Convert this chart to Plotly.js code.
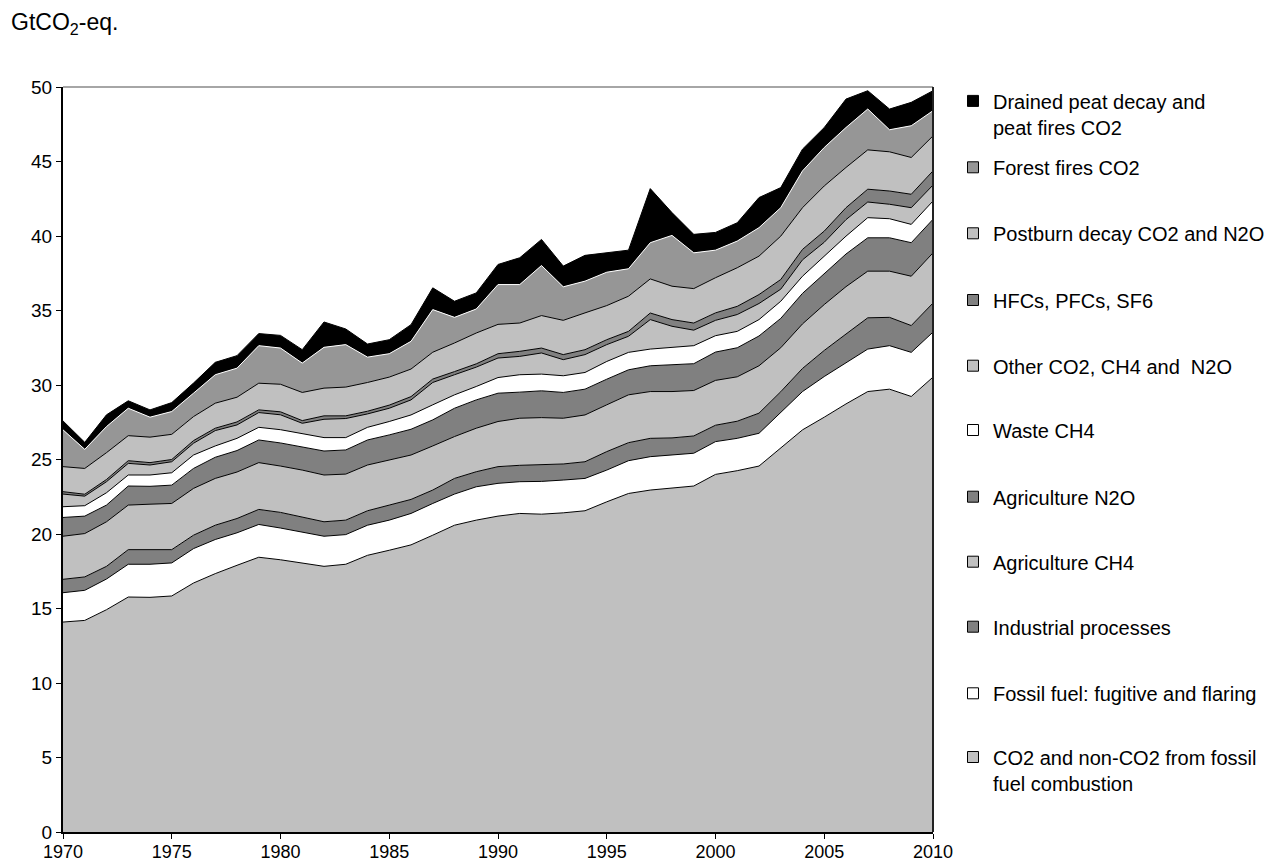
<!DOCTYPE html>
<html>
<head>
<meta charset="utf-8">
<script src="https://cdn.plot.ly/plotly-3.0.1.min.js"></script>
<style>html,body{margin:0;padding:0;background:#fff;}#chart{width:1266px;height:865px;}</style>
</head>
<body>
<div id="chart"></div>
<script>
const years = [1970,1971,1972,1973,1974,1975,1976,1977,1978,1979,1980,1981,1982,1983,1984,1985,1986,1987,1988,1989,1990,1991,1992,1993,1994,1995,1996,1997,1998,1999,2000,2001,2002,2003,2004,2005,2006,2007,2008,2009,2010];
const xTicks = [1970,1975,1980,1985,1990,1995,2000,2005,2010];
const yTicks = [0,5,10,15,20,25,30,35,40,45,50];

const fossilCombustion = [14.09,14.20,14.92,15.77,15.75,15.84,16.71,17.34,17.90,18.44, 18.27,18.06,17.83,17.97,18.57,18.91,19.27,19.92,20.59,20.93, 21.20,21.38,21.33,21.42,21.56,22.16,22.72,22.95,23.06,23.22, 24.00,24.25,24.56,25.75,26.99,27.84,28.73,29.56,29.72,29.23,30.53];
const fugitiveFlaring = [1.97,2.02,2.06,2.20,2.22,2.22,2.31,2.29,2.18,2.20, 2.13,2.08,2.02,1.99,2.02,2.02,2.11,2.13,2.09,2.24, 2.20,2.13,2.20,2.20,2.17,2.13,2.20,2.24,2.24,2.20, 2.20,2.17,2.20,2.40,2.57,2.73,2.74,2.85,2.92,2.96,3.02];
const industrial = [0.90,0.90,0.85,0.98,0.98,0.89,0.90,0.96,0.96,1.01, 1.05,1.01,0.97,0.97,0.97,1.01,0.94,0.90,1.05,1.01, 1.12,1.10,1.10,1.08,1.12,1.24,1.21,1.23,1.15,1.16, 1.10,1.15,1.35,1.40,1.55,1.75,1.95,2.10,1.90,1.80,1.95];
const agriCH4 = [2.89,2.91,2.99,2.99,3.05,3.10,3.14,3.14,3.12,3.14, 3.11,3.14,3.14,3.09,3.07,3.03,2.98,2.96,2.81,2.92, 3.03,3.16,3.18,3.07,3.14,3.14,3.21,3.14,3.11,3.05, 3.01,2.98,3.18,2.95,2.99,3.08,3.18,3.13,3.10,3.31,3.37];
const agriN2O = [1.26,1.17,1.12,1.28,1.20,1.23,1.34,1.42,1.44,1.52, 1.55,1.57,1.61,1.62,1.68,1.68,1.73,1.75,1.90,1.90, 1.90,1.75,1.80,1.73,1.73,1.72,1.68,1.73,1.80,1.80, 1.90,1.95,2.00,1.97,2.05,2.05,2.19,2.24,2.24,2.25,2.25];
const wasteCH4 = [0.72,0.70,0.83,0.74,0.76,0.83,0.90,0.76,0.82,0.85, 0.89,0.90,0.90,0.83,0.85,0.90,0.96,1.01,0.90,0.90, 1.05,1.17,1.12,1.12,1.12,1.19,1.17,1.12,1.14,1.21, 1.10,1.10,1.10,1.15,1.15,1.20,1.20,1.35,1.28,1.23,1.23];
const otherGases = [0.85,0.64,0.74,0.78,0.67,0.74,0.79,1.03,0.90,0.99, 1.00,0.67,1.23,1.28,0.90,0.89,1.01,1.50,1.35,1.30, 1.31,1.23,1.42,1.08,1.20,1.13,1.08,1.98,1.44,1.04, 1.03,1.13,1.08,0.81,1.10,0.93,1.11,1.05,0.97,1.12,1.07];
const fGases = [0.16,0.13,0.15,0.18,0.16,0.15,0.18,0.16,0.20,0.18, 0.20,0.18,0.23,0.18,0.18,0.21,0.22,0.23,0.21,0.22, 0.29,0.34,0.33,0.34,0.33,0.33,0.33,0.44,0.45,0.48, 0.50,0.55,0.60,0.65,0.70,0.75,0.80,0.86,0.89,0.90,0.95];
const postburn = [1.68,1.73,1.80,1.68,1.71,1.69,1.61,1.68,1.66,1.79, 1.85,1.89,1.86,1.93,1.93,1.88,1.85,1.80,1.92,2.07, 1.97,1.90,2.18,2.30,2.47,2.29,2.36,2.29,2.24,2.31, 2.36,2.59,2.58,2.91,2.80,3.03,2.70,2.64,2.63,2.47,2.35];
const forestFires = [2.47,1.28,1.75,1.84,1.34,1.53,1.57,1.91,1.95,2.52, 2.43,1.97,2.74,2.85,1.70,1.57,1.86,2.86,1.72,1.61, 2.67,2.58,3.36,2.25,2.13,2.24,1.84,2.43,3.41,2.40, 1.85,1.79,1.91,1.91,2.47,2.58,2.68,2.74,1.48,2.13,1.69];
const peat = [0.60,0.47,0.79,0.50,0.49,0.60,0.68,0.83,0.84,0.81, 0.85,0.90,1.70,1.05,0.88,0.94,1.12,1.46,1.08,1.08, 1.35,1.80,1.75,1.39,1.73,1.30,1.25,3.63,1.53,1.24, 1.19,1.23,2.02,1.35,1.46,1.34,1.91,1.23,1.39,1.57,1.34];

const seriesNames = [
  "CO2 and non-CO2 from fossil<br>fuel combustion",
  "Fossil fuel: fugitive and flaring",
  "Industrial processes",
  "Agriculture CH4",
  "Agriculture N2O",
  "Waste CH4",
  "Other CO2, CH4 and  N2O",
  "HFCs, PFCs, SF6",
  "Postburn decay CO2 and N2O",
  "Forest fires CO2",
  "Drained peat decay and<br>peat fires CO2"
];
const seriesValues = [fossilCombustion, fugitiveFlaring, industrial, agriCH4, agriN2O, wasteCH4, otherGases, fGases, postburn, forestFires, peat];
const fills = ['#C0C0C0','#FFFFFF','#808080','#C0C0C0','#808080','#FFFFFF','#C0C0C0','#808080','#C0C0C0','#969696','#000000'];
const topLine = ['#000','#000','#000','#000','#000','#000','#000','#000','#000','#FFFFFF','#000'];
// legend centre (px from top of page)
const legendYpx = [770, 693.3, 626.7, 561.7, 496.7, 430, 365.7, 300, 233.3, 167.3, 113.9];

const plotTop = 87, plotBottom = 832, plotLeft = 63, plotRight = 933;
const traces = [];
seriesValues.forEach((vals, i) => {
  traces.push({
    type: 'scatter', mode: 'lines', x: years, y: vals, stackgroup: 'all',
    line: {color: topLine[i], width: 1}, fillcolor: fills[i],
    showlegend: false, hoverinfo: 'skip', name: seriesNames[i]
  });
});
const layout = {
  width: 1266, height: 865,
  margin: {l: plotLeft, r: 1266 - plotRight, t: plotTop, b: 865 - plotBottom, autoexpand: false},
  paper_bgcolor: '#fff', plot_bgcolor: '#fff',
  font: {family: 'Liberation Sans, Arial, sans-serif', color: '#000', size: 19},
  xaxis: {range: [1970, 2010], tickvals: xTicks, ticks: 'outside', ticklen: 5, tickwidth: 1, tickcolor: '#000',
          showline: true, linecolor: '#000', linewidth: 2, showgrid: false, zeroline: false, fixedrange: true,
          tickfont: {size: 18}, ticklabelstandoff: -3},
  yaxis: {range: [0, 50], tickvals: yTicks, ticks: 'outside', ticklen: 5, tickwidth: 1, tickcolor: '#000',
          showline: true, linecolor: '#000', linewidth: 2, showgrid: false, zeroline: false, fixedrange: true,
          tickfont: {size: 19}},
  shapes: [
    {type: 'line', xref: 'paper', yref: 'paper', x0: 0, x1: 1, y0: 1, y1: 1, line: {color: '#888', width: 1.5}},
    {type: 'line', xref: 'paper', yref: 'paper', x0: 1, x1: 1, y0: 0, y1: 1, line: {color: '#222', width: 2}}
  ],
  annotations: [
    {xref: 'paper', yref: 'paper', x: (9 - plotLeft) / (plotRight - plotLeft), y: (plotBottom - 24) / (plotBottom - plotTop),
     xanchor: 'left', yanchor: 'middle', showarrow: false, text: 'GtCO<sub>2</sub>-eq.', font: {size: 23}}
  ],
  hovermode: false
};
seriesNames.forEach((nm, i) => {
  const key = i === 0 ? 'legend' : 'legend' + (i + 1);
  traces.push({
    type: 'scatter', mode: 'markers', x: [null], y: [null], name: nm,
    marker: {symbol: 'square', size: 11, color: fills[i], line: {color: '#000', width: 1}},
    legend: key, showlegend: true, hoverinfo: 'skip'
  });
  layout[key] = {
    x: (953 - plotLeft) / (plotRight - plotLeft), xanchor: 'left',
    y: (plotBottom - legendYpx[i]) / (plotBottom - plotTop), yanchor: 'middle',
    bgcolor: 'rgba(0,0,0,0)', borderwidth: 0, valign: 'top',
    font: {size: 20, family: 'Liberation Sans, Arial, sans-serif', color: '#000'}
  };
});
Plotly.newPlot('chart', traces, layout, {displayModeBar: false, staticPlot: true});
</script>
</body>
</html>
